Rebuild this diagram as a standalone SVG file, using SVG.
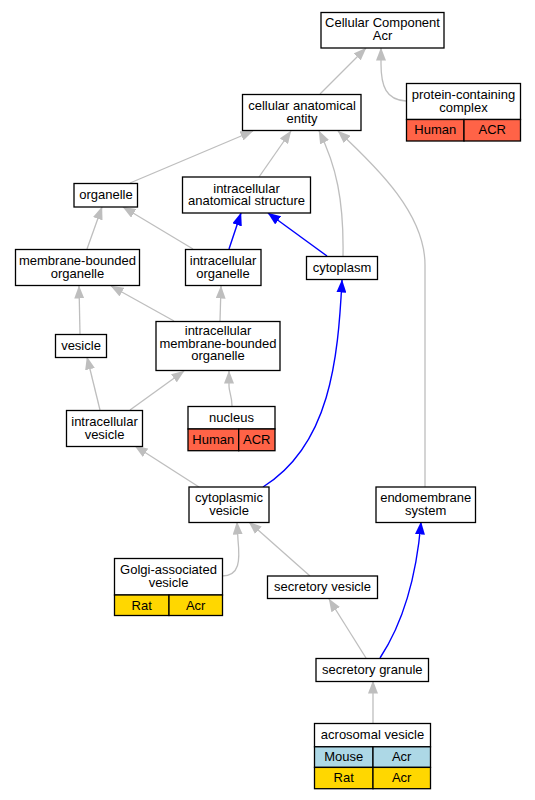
<svg xmlns="http://www.w3.org/2000/svg" width="535" height="800" viewBox="0 0 535 800">
<style>
text{font-family:"Liberation Sans",Arial,sans-serif;font-size:13px;text-anchor:middle;fill:#000}
.n{fill:#fff;stroke:#000;stroke-width:1.3}
.hu{fill:#ff6347;stroke:#000;stroke-width:1.3}
.go{fill:#ffd700;stroke:#000;stroke-width:1.3}
.lb{fill:#add8e6;stroke:#000;stroke-width:1.3}
.g{fill:none;stroke:#bebebe;stroke-width:1.3;marker-end:url(#ag)}
.b{fill:none;stroke:#0000ff;stroke-width:1.4;marker-end:url(#ab)}
</style>
<defs>
<marker id="ag" markerUnits="userSpaceOnUse" viewBox="0 0 13 10" refX="12.5" refY="5" markerWidth="13" markerHeight="10" orient="auto"><path d="M0,0 L13,5 L0,10 z" fill="#bebebe"/></marker>
<marker id="ab" markerUnits="userSpaceOnUse" viewBox="0 0 13 10" refX="12.5" refY="5" markerWidth="13" markerHeight="10" orient="auto"><path d="M0,0 L13,5 L0,10 z" fill="#0000ff"/></marker>
</defs>
<rect width="535" height="800" fill="#fff"/>
<g id="edges">
<path class="g" d="M320,94 L366,48"/>
<path class="g" d="M406,101 C386,100 381,86 381,64 L381,48"/>
<path class="g" d="M130,183 L253,131"/>
<path class="g" d="M259,177 L291,131"/>
<path class="g" d="M343,256 C344,200 336,165 319,131"/>
<path class="g" d="M425,487 L425,265 C425,215 380,170 338,131"/>
<path class="g" d="M87,249 L102,207"/>
<path class="g" d="M193,249 L123,207"/>
<path class="b" d="M229,249 L241,213"/>
<path class="b" d="M327,256 L268,213"/>
<path class="g" d="M80,334 L79,286"/>
<path class="g" d="M174,321 L111,286"/>
<path class="g" d="M220,321 L221,286"/>
<path class="g" d="M100,410 L87,357"/>
<path class="g" d="M130,410 L184,371"/>
<path class="g" d="M232,406 C232,396 229,392 229,386 L229,371"/>
<path class="g" d="M199,487 L135,446"/>
<path class="b" d="M263,487 C330,445 338,360 342,280"/>
<path class="g" d="M222,576 C240,576 240,560 238,540 L237,522"/>
<path class="g" d="M310,576 L249,522"/>
<path class="g" d="M366,658 L329,599"/>
<path class="b" d="M380,658 C405,620 417,570 421,522"/>
<path class="g" d="M373,724 L373,681"/>
</g>
<g id="cellular_component">
<rect class="n" x="321" y="12.5" width="123" height="35.5"/>
<text x="382.5" y="27">Cellular Component</text>
<text x="382.5" y="39.5">Acr</text>
</g>
<g id="protein_containing_complex">
<rect class="n" x="406.5" y="83.5" width="114" height="36"/>
<rect class="hu" x="406.5" y="119.5" width="57.5" height="21.5"/>
<rect class="hu" x="464" y="119.5" width="56.5" height="21.5"/>
<text x="463.5" y="99">protein-containing</text>
<text x="463.5" y="111.5">complex</text>
<text x="435.3" y="134">Human</text>
<text x="492.3" y="134">ACR</text>
</g>
<g id="cellular_anatomical_entity">
<rect class="n" x="242.5" y="94.5" width="118.5" height="36"/>
<text x="302" y="110">cellular anatomical</text>
<text x="302" y="122.5">entity</text>
</g>
<g id="organelle">
<rect class="n" x="74" y="183.5" width="63.5" height="23.5"/>
<text x="106" y="199">organelle</text>
</g>
<g id="intracellular_anatomical_structure">
<rect class="n" x="182.5" y="177" width="128" height="36"/>
<text x="246.5" y="192.5">intracellular</text>
<text x="246.5" y="205">anatomical structure</text>
</g>
<g id="membrane_bounded_organelle">
<rect class="n" x="15.5" y="249.5" width="124" height="36"/>
<text x="77.5" y="265">membrane-bounded</text>
<text x="77.5" y="277.5">organelle</text>
</g>
<g id="intracellular_organelle">
<rect class="n" x="185.5" y="249.5" width="75.5" height="36"/>
<text x="223" y="265">intracellular</text>
<text x="223" y="277.5">organelle</text>
</g>
<g id="cytoplasm">
<rect class="n" x="306.5" y="256.5" width="71" height="23"/>
<text x="342" y="272">cytoplasm</text>
</g>
<g id="vesicle">
<rect class="n" x="55.5" y="334.5" width="51" height="23"/>
<text x="81" y="350">vesicle</text>
</g>
<g id="intracellular_membrane_bounded_organelle">
<rect class="n" x="156" y="321.5" width="124" height="49"/>
<text x="218" y="335">intracellular</text>
<text x="218" y="347.5">membrane-bounded</text>
<text x="218" y="360">organelle</text>
</g>
<g id="intracellular_vesicle">
<rect class="n" x="66.5" y="410.5" width="76" height="36"/>
<text x="104.5" y="426">intracellular</text>
<text x="104.5" y="438.5">vesicle</text>
</g>
<g id="nucleus">
<rect class="n" x="188" y="406.5" width="87" height="22.5"/>
<rect class="hu" x="188" y="429" width="50.7" height="21.7"/>
<rect class="hu" x="238.7" y="429" width="36.3" height="21.7"/>
<text x="231.5" y="422">nucleus</text>
<text x="213.3" y="444">Human</text>
<text x="256.8" y="444">ACR</text>
</g>
<g id="cytoplasmic_vesicle">
<rect class="n" x="189" y="487" width="80" height="35.5"/>
<text x="229" y="502">cytoplasmic</text>
<text x="229" y="514.5">vesicle</text>
</g>
<g id="endomembrane_system">
<rect class="n" x="376" y="487" width="99.5" height="35.5"/>
<text x="425.7" y="502">endomembrane</text>
<text x="425.7" y="514.5">system</text>
</g>
<g id="golgi_associated_vesicle">
<rect class="n" x="114.5" y="558.5" width="108" height="36.5"/>
<rect class="go" x="114.5" y="595" width="54.5" height="20.5"/>
<rect class="go" x="169" y="595" width="53.5" height="20.5"/>
<text x="168.5" y="574">Golgi-associated</text>
<text x="168.5" y="586.5">vesicle</text>
<text x="141.7" y="609.5">Rat</text>
<text x="195.7" y="609.5">Acr</text>
</g>
<g id="secretory_vesicle">
<rect class="n" x="267.5" y="576" width="110" height="22.5"/>
<text x="322.5" y="591.3">secretory vesicle</text>
</g>
<g id="secretory_granule">
<rect class="n" x="316" y="658.5" width="112.5" height="23"/>
<text x="372.3" y="674">secretory granule</text>
</g>
<g id="acrosomal_vesicle">
<rect class="n" x="314.5" y="723.5" width="116" height="23.3"/>
<rect class="lb" x="314.5" y="746.8" width="58.5" height="20.6"/>
<rect class="lb" x="373" y="746.8" width="57.5" height="20.6"/>
<rect class="go" x="314.5" y="767.4" width="58.5" height="21.3"/>
<rect class="go" x="373" y="767.4" width="57.5" height="21.3"/>
<text x="372.5" y="739.3">acrosomal vesicle</text>
<text x="343.7" y="761">Mouse</text>
<text x="401.7" y="761">Acr</text>
<text x="343.7" y="782">Rat</text>
<text x="401.7" y="782">Acr</text>
</g>
</svg>
